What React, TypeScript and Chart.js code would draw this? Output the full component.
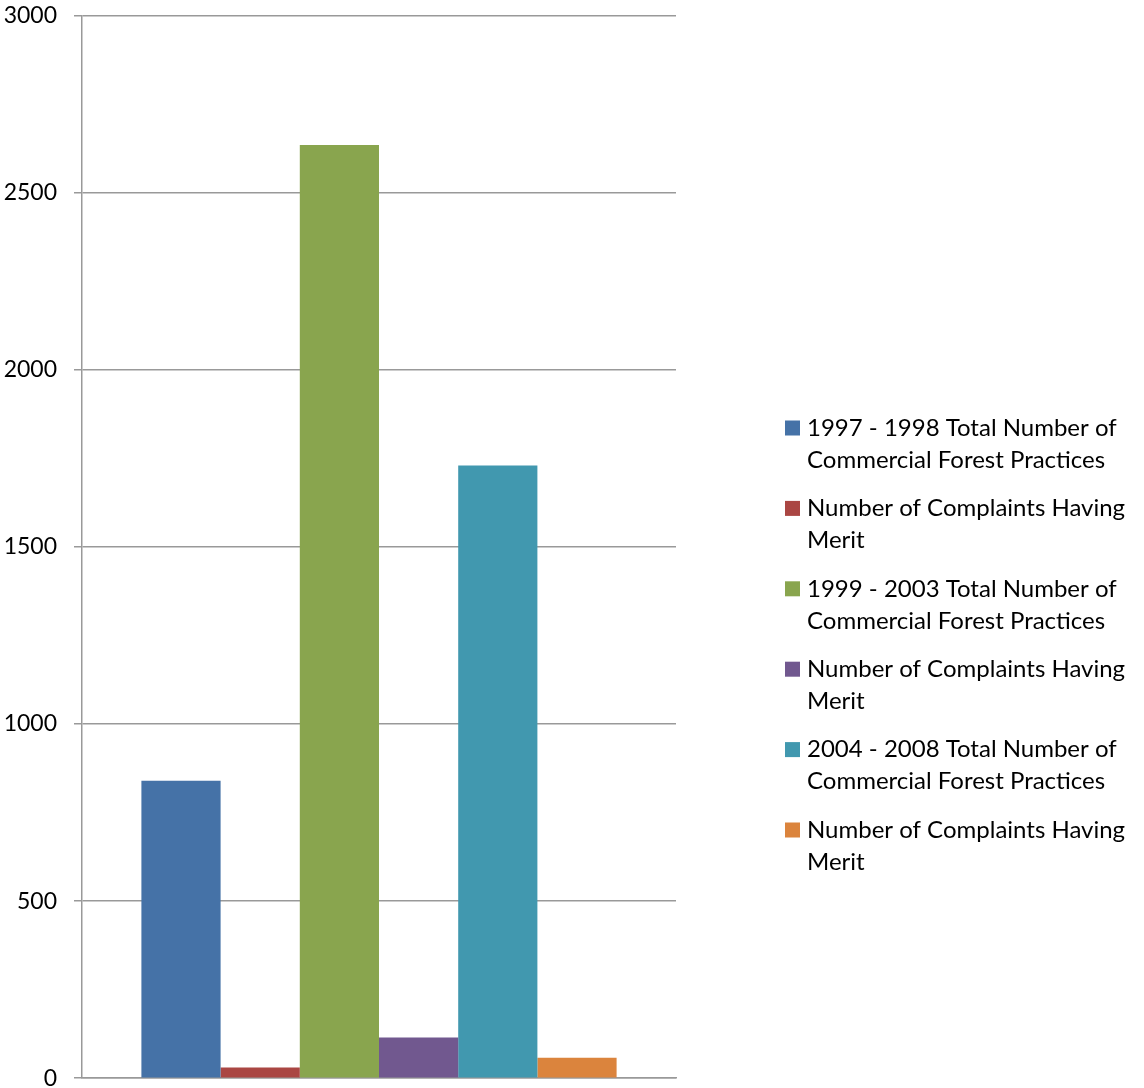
import React, { useEffect, useRef } from "react";
import { Chart, registerables } from "chart.js";

Chart.register(...registerables);

const categories = [""];
const seriesLabels = [
  ["1997 - 1998 Total Number of", "Commercial Forest Practices"],
  ["Number of Complaints Having", "Merit"],
  ["1999 - 2003 Total Number of", "Commercial Forest Practices"],
  ["Number of Complaints Having", "Merit"],
  ["2004 - 2008 Total Number of", "Commercial Forest Practices"],
  ["Number of Complaints Having", "Merit"],
];
const seriesValues = [840, 30, 2635, 115, 1730, 58];
const seriesColors = ["#4572A7", "#AA4643", "#89A54E", "#71588F", "#4198AF", "#DB843D"];
const yTicks = [0, 500, 1000, 1500, 2000, 2500, 3000];

const FONT = "Lato, 'Open Sans', sans-serif";
const OFFSET = 15;
const CANVAS_H = 1124;

const legendPlugin = {
  id: "sideLegend",
  afterDraw(chart: any) {
    const ctx = chart.ctx;
    ctx.save();
    ctx.font = `24px ${FONT}`;
    ctx.textBaseline = "middle";
    ctx.textAlign = "left";
    const startY = 428 + OFFSET;
    const entryGap = 80.4;
    const lineGap = 32;
    chart.data.datasets.forEach((ds: any, i: number) => {
      const y = startY + i * entryGap;
      ctx.fillStyle = ds.backgroundColor;
      ctx.fillRect(785, y - 7.5, 15, 15);
      ctx.fillStyle = "#000";
      const lines: string[] = Array.isArray(ds.label) ? ds.label : [ds.label];
      lines.forEach((ln, j) => ctx.fillText(ln, 807, y + j * lineGap));
    });
    ctx.restore();
  },
};

export default function App() {
  const ref = useRef<HTMLCanvasElement>(null);
  useEffect(() => {
    document.body.style.margin = "0";
    const chart = new Chart(ref.current!, {
      type: "bar",
      data: {
        labels: categories,
        datasets: seriesValues.map((v, i) => ({
          label: seriesLabels[i] as any,
          data: [v],
          backgroundColor: seriesColors[i],
          borderWidth: 0,
        })),
      },
      options: {
        responsive: false,
        animation: false,
        layout: { padding: { left: 0, right: 468, top: 0, bottom: 0 } },
        datasets: { bar: { categoryPercentage: 0.8, barPercentage: 1.0 } },
        plugins: { legend: { display: false }, tooltip: { enabled: false } },
        scales: {
          x: {
            grid: { display: false },
            ticks: { display: false },
            border: { display: true, color: "#999999", width: 1.5 },
          },
          y: {
            min: 0,
            max: 3000,
            afterBuildTicks: (scale: any) => {
              scale.ticks = yTicks.map((v) => ({ value: v }));
            },
            afterFit: (scale: any) => {
              scale.width = 82;
            },
            ticks: {
              color: "#000",
              font: { family: FONT, size: 23 },
              padding: 17,
              callback: (v: any) => String(v),
            },
            grid: { color: "#999999", lineWidth: 1.5, tickLength: 8, drawTicks: true },
            border: { display: true, color: "#999999", width: 1.5 },
          },
        },
      },
      plugins: [legendPlugin],
    });
    return () => chart.destroy();
  }, []);
  return (
    <div style={{ position: "relative", width: 1144, height: 1088, overflow: "hidden" }}>
      <canvas
        ref={ref}
        width={1144}
        height={CANVAS_H}
        style={{ position: "absolute", left: 0, top: -OFFSET }}
      />
    </div>
  );
}
